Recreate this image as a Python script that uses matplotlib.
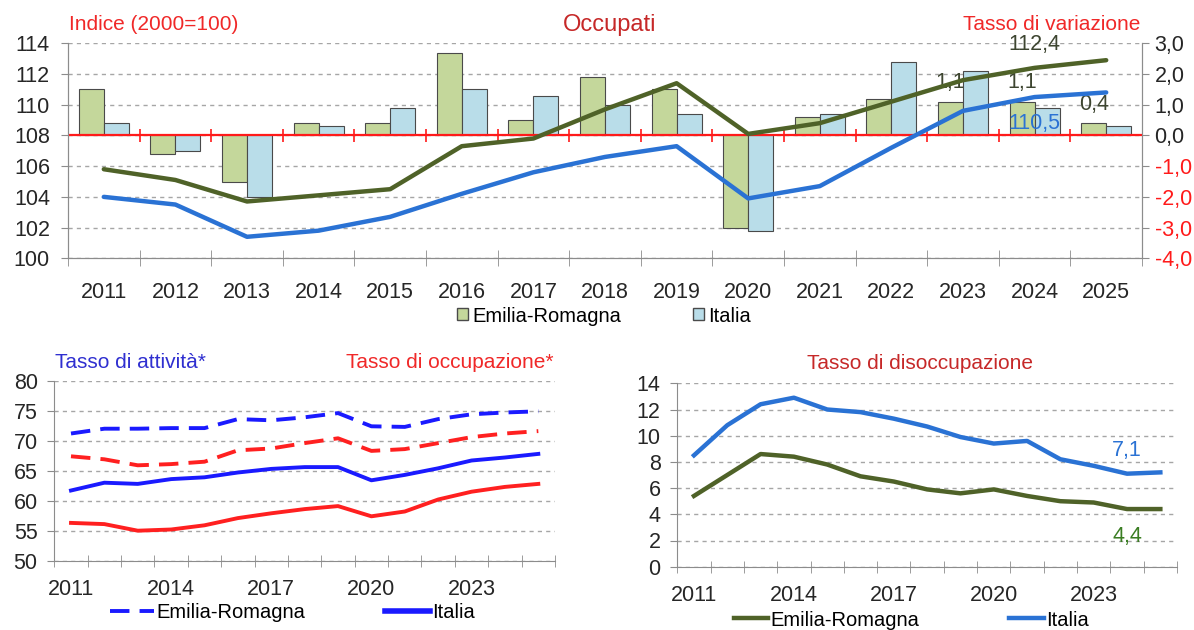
import numpy as np
import matplotlib.pyplot as plt
from matplotlib.patches import Patch
from matplotlib.lines import Line2D

plt.rcParams['font.family'] = ['Liberation Sans', 'DejaVu Sans']
plt.rcParams['axes.unicode_minus'] = False

years = list(range(2011, 2026))

# Occupati - indice (2000=100)
er_index = [105.8, 105.1, 103.7, 104.1, 104.5, 107.3, 107.8, 109.7, 111.4, 108.1,
            108.8, 110.2, 111.6, 112.4, 112.9]
it_index = [104.0, 103.5, 101.4, 101.8, 102.7, 104.2, 105.6, 106.6, 107.3, 103.9,
            104.7, 107.2, 109.6, 110.5, 110.8]
# Occupati - tasso di variazione
er_var = [1.5, -0.6, -1.5, 0.4, 0.4, 2.7, 0.5, 1.9, 1.5, -3.0, 0.6, 1.2, 1.1, 1.1, 0.4]
it_var = [0.4, -0.5, -2.0, 0.3, 0.9, 1.5, 1.3, 1.0, 0.7, -3.1, 0.7, 2.4, 2.1, 0.9, 0.3]

# Tasso di attivita / occupazione
er_att = [71.2, 72.0, 72.0, 72.1, 72.1, 73.6, 73.4, 73.9, 74.6, 72.4, 72.3, 73.6, 74.4, 74.7, 74.9]
it_att = [61.7, 63.0, 62.8, 63.6, 63.9, 64.7, 65.3, 65.6, 65.6, 63.4, 64.3, 65.4, 66.7, 67.2, 67.8]
er_occ = [67.4, 66.9, 65.9, 66.1, 66.5, 68.4, 68.7, 69.6, 70.4, 68.3, 68.6, 69.6, 70.6, 71.2, 71.6]
it_occ = [56.3, 56.1, 55.0, 55.2, 55.9, 57.1, 57.9, 58.6, 59.1, 57.4, 58.2, 60.2, 61.5, 62.3, 62.8]

# Tasso di disoccupazione
er_dis = [5.4, 7.0, 8.6, 8.4, 7.8, 6.9, 6.5, 5.9, 5.6, 5.9, 5.4, 5.0, 4.9, 4.4, 4.4]
it_dis = [8.5, 10.8, 12.4, 12.9, 12.0, 11.8, 11.3, 10.7, 9.9, 9.4, 9.6, 8.2, 7.7, 7.1, 7.2]

GREEN_BAR = '#c4d79b'
BLUE_BAR = '#b9dde9'
GREEN_LINE = '#4f6228'
BLUE_LINE = '#2a72d4'
GRID = '#a6a6a6'
TXT = '#262626'
FS = 15.5

W, H = 1194, 630
fig = plt.figure(figsize=(W / 100, H / 100), dpi=100)

def box(l, t, r, b):
    return [l / W, 1 - b / H, (r - l) / W, (b - t) / H]

x = np.arange(len(years))
edges = np.arange(len(years) + 1) - 0.5

def fmt(v):
    return f'{v:.1f}'.replace('.', ',')

# ---------------- top chart: Occupati ----------------
ax = fig.add_axes(box(68, 43.3, 1142, 258.3))
ax2 = ax.twinx()
ax.set_zorder(ax2.get_zorder() + 1)
ax.patch.set_visible(False)

bw = 0.35
ax2.bar(x - bw / 2, er_var, bw, color=GREEN_BAR, edgecolor='#4a4a4a', linewidth=0.8, zorder=3)
ax2.bar(x + bw / 2, it_var, bw, color=BLUE_BAR, edgecolor='#4a4a4a', linewidth=0.8, zorder=3)
ax2.axhline(0, color='#ff1a1a', lw=1.6, zorder=4)
ax2.vlines(edges[1:-1], -0.2, 0.2, color='#ff1a1a', lw=1.2, zorder=4)
ax2.set_ylim(-4, 3)
ax2.set_yticks(np.arange(-4, 3.5, 1))
ax2.set_yticklabels([fmt(v) for v in np.arange(-4, 3.5, 1)])
for lab, v in zip(ax2.get_yticklabels(), np.arange(-4, 3.5, 1)):
    lab.set_color('#ff1a1a' if v < 0 else TXT)
ax2.yaxis.grid(True, color=GRID, ls=(0, (3, 3)), lw=1)
ax2.set_axisbelow(True)
ax2.tick_params(axis='y', labelsize=FS, length=5, pad=4, color='#8c8c8c')

ax.plot(x, er_index, color=GREEN_LINE, lw=3.2, solid_capstyle='round')
ax.plot(x, it_index, color=BLUE_LINE, lw=3.2, solid_capstyle='round')
ax.set_ylim(100, 114)
ax.set_yticks(range(100, 115, 2))
ax.set_xlim(-0.5, len(years) - 0.5)
ax2.set_xlim(-0.5, len(years) - 0.5)
ax.set_xticks(x)
ax.set_xticklabels([str(y) for y in years])
ax.set_xticks(edges, minor=True)
ax.tick_params(axis='x', which='major', length=0, labelsize=FS, pad=17, labelcolor=TXT)
ax.tick_params(axis='x', which='minor', direction='inout', length=12, color='#8c8c8c')
ax.tick_params(axis='y', labelsize=FS, length=5, pad=8, color='#8c8c8c', labelcolor=TXT)
for a in (ax, ax2):
    a.spines['top'].set_visible(False)
    for s in ('left', 'right', 'bottom'):
        a.spines[s].set_color('#8c8c8c')

# data labels
ax.text(13, er_index[13] + 1.55, '112,4', ha='center', va='center', fontsize=FS, color='#3d4530')
ax.text(13, it_index[13] - 1.7, '110,5', ha='center', va='center', fontsize=FS, color=BLUE_LINE)
for i in (12, 13, 14):
    ax2.text(x[i] - bw / 2, er_var[i] + 0.62, fmt(er_var[i]), ha='center', va='center',
             fontsize=FS, color='#3d4530', zorder=2)

ax.legend(handles=[Patch(facecolor=GREEN_BAR, edgecolor='#4a4a4a', label='Emilia-Romagna'),
                   Patch(facecolor=BLUE_BAR, edgecolor='#4a4a4a', label='Italia')],
          loc='center', bbox_to_anchor=(604 / W, 1 - 316 / H), bbox_transform=fig.transFigure,
          ncol=2, frameon=False, fontsize=14.5, handlelength=0.55, handleheight=0.55,
          handletextpad=0.2, columnspacing=3.6, borderpad=0)

fig.text(69 / W, 1 - 25 / H, 'Indice (2000=100)', ha='left', va='center', fontsize=15, color='#f02828')
fig.text(610 / W, 1 - 25 / H, 'Occupati', ha='center', va='center', fontsize=17, color='#c62828')
fig.text(1140 / W, 1 - 25 / H, 'Tasso di variazione', ha='right', va='center', fontsize=15, color='#f02828')

# ---------------- bottom left: attivita / occupazione ----------------
bl = fig.add_axes(box(54.3, 380.7, 555, 560.7))
dash = (0, (5, 2.6))
bl.plot(x, er_att, color='#1a1aff', lw=2.8, ls=dash)
bl.plot(x, er_occ, color='#ff2020', lw=2.8, ls=dash)
bl.plot(x, it_att, color='#1a1aff', lw=2.8)
bl.plot(x, it_occ, color='#ff2020', lw=2.8)
bl.set_ylim(50, 80)
bl.set_yticks(range(50, 81, 5))

# ---------------- bottom right: disoccupazione ----------------
br = fig.add_axes(box(677.3, 383.3, 1177, 566.7))
br.plot(x, er_dis, color=GREEN_LINE, lw=3.2)
br.plot(x, it_dis, color=BLUE_LINE, lw=3.2)
br.set_ylim(0, 14)
br.set_yticks(range(0, 15, 2))
br.text(13, it_dis[13] + 1.8, '7,1', ha='center', va='center', fontsize=FS, color=BLUE_LINE)
br.text(13, er_dis[13] - 2.1, '4,4', ha='center', va='center', fontsize=FS, color='#3a7d22')

for a in (bl, br):
    a.set_xlim(-0.5, len(years) - 0.5)
    a.set_xticks(x[::3])
    a.set_xticklabels([str(years[i]) for i in x[::3]])
    a.set_xticks(edges, minor=True)
    a.tick_params(axis='x', which='major', length=0, labelsize=FS, pad=13, labelcolor=TXT)
    a.tick_params(axis='x', which='minor', direction='inout', length=9, color='#8c8c8c')
    a.tick_params(axis='y', labelsize=FS, length=5, pad=7, color='#8c8c8c', labelcolor=TXT)
    a.yaxis.grid(True, color=GRID, ls=(0, (3, 3)), lw=1)
    a.set_axisbelow(True)
    a.spines['top'].set_visible(False)
    a.spines['right'].set_visible(False)
    a.spines['left'].set_color('#8c8c8c')
    a.spines['bottom'].set_color('#8c8c8c')

bl.legend(handles=[Line2D([], [], color='#1a1aff', lw=2.8, ls=dash, label='Emilia-Romagna'),
                   Line2D([], [], color='#1a1aff', lw=4, label='Italia')],
          loc='center', bbox_to_anchor=(292 / W, 1 - 613 / H), bbox_transform=fig.transFigure,
          ncol=2, frameon=False, fontsize=14.5, handlelength=2.2, handletextpad=0.1,
          columnspacing=4.0, borderpad=0)
br.legend(handles=[Line2D([], [], color=GREEN_LINE, lw=3.2, label='Emilia-Romagna'),
                   Line2D([], [], color=BLUE_LINE, lw=3.2, label='Italia')],
          loc='center', bbox_to_anchor=(911 / W, 1 - 620 / H), bbox_transform=fig.transFigure,
          ncol=2, frameon=False, fontsize=14.5, handlelength=1.7, handletextpad=0.1,
          columnspacing=4.5, borderpad=0)

fig.text(55 / W, 1 - 363 / H, 'Tasso di attività*', ha='left', va='center', fontsize=15, color='#2f2fd0')
fig.text(553 / W, 1 - 363 / H, 'Tasso di occupazione*', ha='right', va='center', fontsize=15, color='#f02828')
fig.text(920 / W, 1 - 364 / H, 'Tasso di disoccupazione', ha='center', va='center', fontsize=15, color='#c62828')

fig.savefig('out.png', dpi=100)
